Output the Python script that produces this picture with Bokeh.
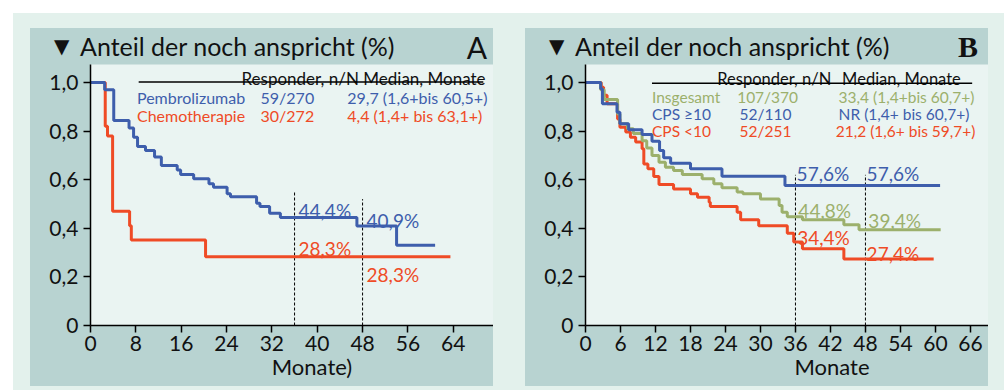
from bokeh.plotting import figure
from bokeh.models import Range1d, FixedTicker, Div
from bokeh.layouts import row, column
from bokeh.core.properties import value
from bokeh.embed import file_html
from bokeh.resources import INLINE

# ---- data -------------------------------------------------------------
# Panel A: duration of response, Pembrolizumab vs. Chemotherapie
a_pembro_t = [0, 2.5, 4.1, 6.8, 7.6, 8.3, 9.7, 11.3, 12.5, 15.3, 15.9, 18.2, 20.9,
              21.7, 24.1, 24.7, 29.3, 29.9, 31.6, 33.5, 47.0, 54.0, 60.8]
a_pembro_s = [1.0, 0.97, 0.844, 0.813, 0.775, 0.737, 0.72, 0.693, 0.658, 0.64, 0.621,
              0.604, 0.583, 0.569, 0.542, 0.53, 0.503, 0.49, 0.462, 0.444, 0.409, 0.33, 0.33]
a_chemo_t = [0, 2.6, 3.0, 3.9, 6.9, 7.2, 20.3, 63.5]
a_chemo_s = [1.0, 0.82, 0.78, 0.47, 0.41, 0.352, 0.283, 0.283]

# Panel B: by PD-L1 CPS subgroup
b_all_t = [0, 2.6, 3.2, 5.5, 5.9, 7.2, 8.2, 9.7, 10.5, 11.4, 12.6, 13.7, 15.1, 16.6,
           20.0, 22.0, 23.4, 26.0, 27.0, 30.0, 33.2, 33.7, 34.6, 37.2, 44.3, 46.9, 60.9]
b_all_s = [1.0, 0.97, 0.93, 0.87, 0.83, 0.81, 0.79, 0.76, 0.73, 0.70, 0.672, 0.651,
           0.638, 0.621, 0.604, 0.583, 0.567, 0.549, 0.542, 0.521, 0.494, 0.466, 0.448,
           0.435, 0.415, 0.394, 0.394]
b_hi_t = [0, 2.6, 2.9, 5.4, 5.9, 7.4, 9.7, 11.4, 12.7, 13.4, 14.6, 18.0, 23.4, 34.2, 60.8]
b_hi_s = [1.0, 0.974, 0.912, 0.878, 0.83, 0.805, 0.786, 0.758, 0.72, 0.69, 0.668,
          0.645, 0.614, 0.576, 0.576]
b_lo_t = [0, 2.7, 3.1, 3.7, 5.5, 5.9, 6.9, 7.7, 8.6, 9.7, 10.0, 10.7, 11.7, 12.6, 15.1,
          18.0, 19.2, 21.2, 21.4, 26.0, 26.6, 29.7, 34.6, 35.7, 37.2, 44.3, 59.7]
b_lo_s = [1.0, 0.98, 0.947, 0.912, 0.85, 0.816, 0.796, 0.775, 0.755, 0.727, 0.665,
          0.645, 0.613, 0.58, 0.562, 0.542, 0.528, 0.507, 0.49, 0.466, 0.435, 0.41,
          0.38, 0.344, 0.316, 0.274, 0.274]

a_xticks = [0, 8, 16, 24, 32, 40, 48, 56, 64]
b_xticks = [0, 6, 12, 18, 24, 30, 36, 42, 48, 54, 60, 66]
y_ticks = [0, 0.2, 0.4, 0.6, 0.8, 1.0]
y_tick_labels = ["0", "0,2", "0,4", "0,6", "0,8", "1,0"]
landmarks = [36, 48]

a_names = ["Pembrolizumab", "Chemotherapie"]
a_nN = ["59/270", "30/272"]
a_median = ["29,7 (1,6+bis 60,5+)", "4,4 (1,4+ bis 63,1+)"]
b_names = ["Insgesamt", "CPS \u226510", "CPS <10"]
b_nN = ["107/370", "52/110", "52/251"]
b_median = ["33,4 (1,4+bis 60,7+)", "NR (1,4+ bis 60,7+)", "21,2 (1,6+ bis 59,7+)"]

a_pct_blue = ["44,4%", "40,9%"]
a_pct_red = ["28,3%", "28,3%"]
b_pct_blue = ["57,6%", "57,6%"]
b_pct_green = ["44,8%", "39,4%"]
b_pct_red = ["34,4%", "27,4%"]

# ---- style ------------------------------------------------------------
OUTER = "#e3f1ec"
PANEL = "#b8d3d1"
FRAME = "#eaf4f2"
BLUE = "#3e5eac"
RED = "#ef4b26"
GREEN = "#9cb06c"
INK = "#111111"
FONT = "Lato"
TITLE_TEXT = "Anteil der noch anspricht (%)"
W = 463


def title_div(letter, letter_right, letter_css):
    html = (
        f'<div style="position:relative;width:{W}px;height:36px;color:{INK};'
        f'font-family:{FONT};">'
        f'<span style="position:absolute;left:24px;top:8px;font-size:20px;'
        f'line-height:20px;font-family:\'DejaVu Sans\';">\u25bc</span>'
        f'<span style="position:absolute;left:50px;top:6px;font-size:25px;'
        f'line-height:25px;white-space:nowrap;">{TITLE_TEXT}</span>'
        f'<span style="position:absolute;right:{letter_right}px;top:4px;font-size:30px;'
        f'line-height:30px;{letter_css}">{letter}</span></div>'
    )
    return Div(text=html, width=W, height=36, margin=0)


def xlabel_div(text, center):
    html = (
        f'<div style="position:relative;width:{W}px;height:28px;color:{INK};'
        f'font-family:{FONT};">'
        f'<span style="position:absolute;left:{center - 100}px;width:200px;top:-2px;'
        f'text-align:center;font-size:22px;line-height:22px;">{text}</span></div>'
    )
    return Div(text=html, width=W, height=28, margin=0)


def make_plot(xmax, xticks):
    p = figure(width=W, height=294, x_range=Range1d(0, xmax), y_range=Range1d(0, 1.074),
               output_backend="svg", toolbar_location=None,
               min_border_left=60, min_border_right=0, min_border_top=0,
               min_border_bottom=33)
    p.border_fill_color = PANEL
    p.background_fill_color = FRAME
    p.outline_line_color = None
    p.grid.visible = False
    p.margin = 0
    for ax in (p.xaxis, p.yaxis):
        ax.axis_line_color = "black"
        ax.axis_line_width = 1.5
        ax.major_tick_line_color = "black"
        ax.major_tick_line_width = 1.5
        ax.major_tick_in = 0
        ax.major_tick_out = 7
        ax.minor_tick_line_color = None
        ax.major_label_text_font = FONT
        ax.major_label_text_font_size = "21px"
        ax.major_label_text_color = INK
    p.xaxis.ticker = FixedTicker(ticks=xticks)
    p.xaxis.major_label_standoff = 3
    p.yaxis.ticker = FixedTicker(ticks=y_ticks)
    p.yaxis.major_label_overrides = dict(zip(y_ticks, y_tick_labels))
    p.yaxis.major_label_standoff = 5
    return p


def curve(p, t, s, color):
    p.step(t, s, mode="after", line_color=color, line_width=3)


def txt(p, x, y, text, color, size="15.5px", align="left"):
    p.text(x=x, y=y, text=text, text_color=color, text_font=value(FONT),
           text_font_size=size, text_baseline="alphabetic", text_align=align)


pct_size = "19px"

# ---- panel A ------------------------------------------------------------
pa = make_plot(71.1, a_xticks)
pa.segment(x0=landmarks, y0=[0, 0], x1=landmarks, y1=[0.55, 0.52],
           line_color="black", line_width=1, line_dash="3 2")
curve(pa, a_chemo_t, a_chemo_s, RED)
curve(pa, a_pembro_t, a_pembro_s, BLUE)
txt(pa, [69.7], [1.016], ["Responder, n/N Median, Monate"], INK, "17px", "right")
pa.segment(x0=[8.5], y0=[1.002], x1=[69.3], y1=[1.002], line_color="black", line_width=1.5)
a_rows = [0.9395, 0.864]
a_cols = [BLUE, RED]
txt(pa, [8.2] * 2, a_rows, a_names, a_cols, "16px")
txt(pa, [30.0] * 2, a_rows, a_nN, a_cols, "16px")
txt(pa, [45.3] * 2, a_rows, a_median, a_cols, "16px")
txt(pa, [36.7, 48.7], [0.475, 0.434], a_pct_blue, BLUE, pct_size)
txt(pa, [36.7, 48.7], [0.317, 0.21], a_pct_red, RED, pct_size)

# ---- panel B ------------------------------------------------------------
pb = make_plot(69.1, b_xticks)
pb.segment(x0=landmarks, y0=[0, 0], x1=landmarks, y1=[0.62, 0.62],
           line_color="black", line_width=1, line_dash="3 2")
curve(pb, b_lo_t, b_lo_s, RED)
curve(pb, b_all_t, b_all_s, GREEN)
curve(pb, b_hi_t, b_hi_s, BLUE)
txt(pb, [22.6, 44.0], [1.016, 1.016], ["Responder, n/N", "Median, Monate"], INK, "16.5px")
pb.segment(x0=[11.4], y0=[0.997], x1=[66.3], y1=[0.997], line_color="black", line_width=1.5)
b_rows = [0.9395, 0.871, 0.80]
b_cols = [GREEN, BLUE, RED]
txt(pb, [11.4] * 3, b_rows, b_names, b_cols)
txt(pb, [26.0, 26.4, 26.4], b_rows, b_nN, b_cols)
txt(pb, [43.4, 43.4, 42.9], b_rows, b_median, b_cols)
txt(pb, [36.2, 48.2], [0.627, 0.627], b_pct_blue, BLUE, pct_size)
txt(pb, [36.5, 48.5], [0.473, 0.432], b_pct_green, GREEN, pct_size)
txt(pb, [36.3, 48.2], [0.361, 0.295], b_pct_red, RED, pct_size)

# ---- assemble: teal panels on a pale mat -------------------------------------
panel_a = column(title_div("A", 6, ""), pa, xlabel_div("Monate)", 282),
                 margin=(15, 0, 4, 17), spacing=0, styles={"background-color": PANEL})
panel_b = column(title_div("B", 10, "font-family:'Liberation Serif';font-weight:bold;"),
                 pb, xlabel_div("Monate", 247 + 60),
                 margin=(15, 16, 4, 32), spacing=0, styles={"background-color": PANEL})
layout = row(panel_a, panel_b, margin=(13, 0, 0, 13), spacing=0,
             styles={"background-color": OUTER})

open("out.html", "w").write(file_html(layout, INLINE))
